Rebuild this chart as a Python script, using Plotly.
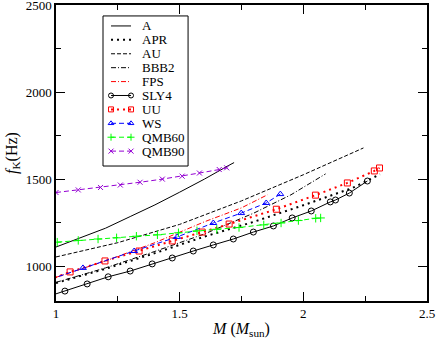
import plotly.graph_objects as go

# Kepler frequency f_K (Hz) against stellar mass M (M_sun) for each EOS
a_m = [1.0, 1.1, 1.2, 1.3, 1.4, 1.5, 1.6, 1.7, 1.72]
a_f = [1110, 1162, 1218, 1285, 1352, 1425, 1500, 1580, 1595]

apr_m = [1.0, 1.2, 1.4, 1.6, 1.8, 2.0, 2.2, 2.31]
apr_f = [903, 985, 1075, 1170, 1255, 1350, 1450, 1528]

au_m = [1.0, 1.25, 1.5, 1.75, 2.0, 2.243]
au_f = [1053, 1135, 1240, 1375, 1525, 1679]

bbb2_m = [1.0, 1.2, 1.4, 1.6, 1.8, 1.95, 2.09]
bbb2_f = [907, 990, 1085, 1185, 1305, 1410, 1530]

fps_m = [1.0, 1.2, 1.4, 1.6, 1.75, 1.855]
fps_f = [936, 1030, 1135, 1255, 1335, 1410]

sly4_m = [0.95, 1.036, 1.126, 1.211, 1.300, 1.389, 1.470, 1.555, 1.636, 1.717,
          1.798, 1.879, 1.955, 2.032, 2.109, 2.130, 2.186, 2.259]
sly4_f = [818, 857, 898, 939, 972, 1013, 1047, 1087, 1122, 1156,
          1196, 1231, 1277, 1317, 1369, 1380, 1420, 1489]

uu_m = [0.95, 1.057, 1.198, 1.336, 1.470, 1.591, 1.700, 1.891, 2.049, 2.178, 2.287, 2.308]
uu_f = [910, 967, 1030, 1087, 1145, 1196, 1242, 1327, 1408, 1478, 1547, 1564]

ws_m = [0.95, 1.109, 1.316, 1.490, 1.636, 1.749, 1.850, 1.907]
ws_f = [912, 990, 1087, 1168, 1248, 1305, 1363, 1414]

qmb60_m = [1.005, 1.09, 1.17, 1.245, 1.325, 1.41, 1.495, 1.57, 1.65, 1.74,
           1.84, 1.91, 1.98, 2.05, 2.07]
qmb60_f = [1138, 1148, 1156, 1163, 1172, 1180, 1192, 1203, 1212, 1222,
           1237, 1248, 1262, 1275, 1277]

qmb90_m = [1.0, 1.09, 1.18, 1.26, 1.34, 1.43, 1.51, 1.58, 1.66, 1.69]
qmb90_f = [1423, 1438, 1452, 1466, 1482, 1500, 1517, 1535, 1555, 1565]

x_ticks = [1, 1.5, 2, 2.5]
y_ticks = [1000, 1500, 2000, 2500]

series = [
    ('A', a_m, a_f),
    ('APR', apr_m, apr_f),
    ('AU', au_m, au_f),
    ('BBB2', bbb2_m, bbb2_f),
    ('FPS', fps_m, fps_f),
    ('SLY4', sly4_m, sly4_f),
    ('UU', uu_m, uu_f),
    ('WS', ws_m, ws_f),
    ('QMB60', qmb60_m, qmb60_f),
    ('QMB90', qmb90_m, qmb90_f),
]

# line / marker look per curve (xmgrace-like)
styles = {
    'A':     dict(color='black', dash='solid', width=1, symbol=None, size=0),
    'APR':   dict(color='black', dash='2px,4px', width=2, symbol=None, size=0),
    'AU':    dict(color='black', dash='4px,2px', width=1, symbol=None, size=0),
    'BBB2':  dict(color='black', dash='5px,2px,1px,2px', width=1, symbol=None, size=0),
    'FPS':   dict(color='#ff0000', dash='5px,2px,1px,2px', width=1, symbol=None, size=0),
    'SLY4':  dict(color='black', dash='solid', width=1, symbol='circle-open', size=6),
    'UU':    dict(color='#ff0000', dash='2px,4px', width=2, symbol='square-open', size=6),
    'WS':    dict(color='#0000ff', dash='5px,3px', width=1, symbol='triangle-up-open', size=6),
    'QMB60': dict(color='#00ff00', dash='5px,3px', width=1, symbol='cross-thin-open', size=6),
    'QMB90': dict(color='#9400d3', dash='5px,3px', width=1, symbol='x-thin-open', size=5),
}

FONT = 'Liberation Serif, Times New Roman, serif'

fig = go.Figure()

for name, m, f in series:
    st = styles[name]
    mode = 'lines+markers' if st['symbol'] else 'lines'
    marker = dict(symbol=st['symbol'], size=st['size'], color=st['color'],
                  line=dict(color=st['color'], width=1)) if st['symbol'] else None
    fig.add_trace(go.Scatter(
        x=m, y=f, mode=mode, name=name, showlegend=False,
        line=dict(color=st['color'], dash=st['dash'], width=st['width']),
        marker=marker
    ))

# hand-made legend drawn on an invisible overlay axis (samples with end markers)
row_gap = 13.9
for i, (name, m, f) in enumerate(series):
    st = styles[name]
    ry = 10 + row_gap * i
    mode = 'lines+markers' if st['symbol'] else 'lines'
    marker = dict(symbol=st['symbol'], size=5, color=st['color'],
                  line=dict(color=st['color'], width=1)) if st['symbol'] else None
    fig.add_trace(go.Scatter(
        x=[8, 28], y=[ry, ry], mode=mode, showlegend=False,
        xaxis='x2', yaxis='y2', hoverinfo='skip',
        line=dict(color=st['color'], dash=st['dash'], width=st['width']),
        marker=marker
    ))
    fig.add_annotation(x=37, y=ry, xref='x2', yref='y2', text=name,
                       showarrow=False, xanchor='left', yanchor='middle',
                       font=dict(family=FONT, size=13, color='black'))

fig.add_shape(type='rect', xref='x2 domain', yref='y2 domain',
              x0=0, x1=1, y0=0, y1=1, line=dict(color='black', width=1))

axis_common = dict(
    showline=True, linecolor='black', linewidth=1.5, mirror='ticks',
    ticks='inside', ticklen=9, tickwidth=1, tickcolor='black',
    showgrid=False, zeroline=False, ticklabeloverflow='allow',
    tickfont=dict(family=FONT, size=13, color='black'),
)

fig.update_layout(
    width=436, height=339,
    margin=dict(l=56, r=9, t=5, b=38, autoexpand=False),
    paper_bgcolor='white', plot_bgcolor='rgba(0,0,0,0)',
    font=dict(family=FONT, color='black'),
    xaxis=dict(
        range=[1, 2.5], tickvals=x_ticks,
        minor=dict(ticks='inside', ticklen=5, dtick=0.25, tick0=1, tickcolor='black'),
        title=dict(text='<i>M</i> (<i>M</i><sub>sun</sub>)',
                   font=dict(family=FONT, size=16), standoff=4),
        **axis_common
    ),
    yaxis=dict(
        range=[800, 2500], tickvals=y_ticks,
        minor=dict(ticks='inside', ticklen=5, dtick=250, tick0=1000, tickcolor='black'),
        title=dict(text='<i>f</i><sub>K</sub>(Hz)',
                   font=dict(family=FONT, size=16), standoff=4),
        **axis_common
    ),
    xaxis2=dict(domain=[0.1267, 0.356], anchor='y2', range=[0, 85],
                visible=False, showline=False, fixedrange=True),
    yaxis2=dict(domain=[0.456, 0.963], anchor='x2', range=[150, 0],
                visible=False, showline=False, fixedrange=True),
)

# page body has a default 8px margin; drop it so the figure sits at the corner
fig.write_html('out.html', config={'displayModeBar': False},
               post_script="document.body.style.margin='0';")
